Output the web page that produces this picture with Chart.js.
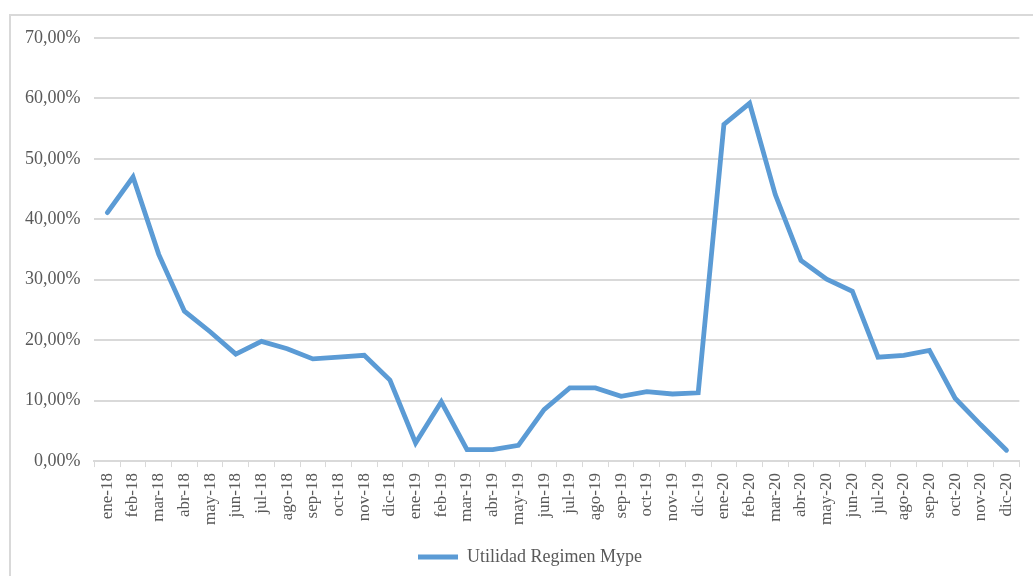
<!DOCTYPE html>
<html>
<head>
<meta charset="utf-8">
<script src="https://cdn.jsdelivr.net/npm/chart.js@4.4.0/dist/chart.umd.min.js"></script>
<style>
  html, body { margin: 0; padding: 0; background: #fff; overflow: hidden; }
  #frame { position: absolute; left: 9px; top: 14px; width: 1040px; height: 580px; border: 2px solid #d9d9d9; }
  #wrap { position: absolute; left: 0; top: 0; width: 1033px; height: 576px; }
</style>
</head>
<body>
<div id="frame"></div>
<div id="wrap"><canvas id="myChart"></canvas></div>
<script>
let meses = ['ene-18','feb-18','mar-18','abr-18','may-18','jun-18','jul-18','ago-18','sep-18','oct-18','nov-18','dic-18',
             'ene-19','feb-19','mar-19','abr-19','may-19','jun-19','jul-19','ago-19','sep-19','oct-19','nov-19','dic-19',
             'ene-20','feb-20','mar-20','abr-20','may-20','jun-20','jul-20','ago-20','sep-20','oct-20','nov-20','dic-20']

let utilidad = [41.1, 47.0, 34.2, 24.8, 21.4, 17.7, 19.8, 18.6, 16.9, 17.2, 17.5, 13.4,
                3.0, 9.8, 1.9, 1.9, 2.6, 8.5, 12.1, 12.1, 10.7, 11.5, 11.1, 11.3,
                55.7, 59.2, 44.1, 33.2, 30.1, 28.1, 17.2, 17.5, 18.3, 10.4, 6.0, 1.8]

let serie = 'Utilidad Regimen Mype'
let azul = '#5b9bd5'
let gris = '#d9d9d9'
let texto = '#595959'

// nudge the legend a bit to the right, as in the original
let moverLeyenda = {
  id: 'moverLeyenda',
  afterLayout(chart) {
    chart.legend.left += 12
    chart.legend.right += 12
  }
}

let ctx = document.getElementById('myChart').getContext('2d')

let chart = new Chart(ctx, {
  type: 'line',
  data: {
    labels: meses,
    datasets: [{
      label: serie,
      data: utilidad,
      borderColor: azul,
      backgroundColor: azul,
      borderWidth: 4.8,
      borderCapStyle: 'round',
      borderJoinStyle: 'miter',
      pointRadius: 0,
      fill: false,
      tension: 0
    }]
  },
  options: {
    responsive: true,
    maintainAspectRatio: false,
    animation: false,
    layout: { autoPadding: false, padding: { left: 11, right: 8, top: 38, bottom: 0 } },
    plugins: {
      tooltip: { enabled: false },
      legend: {
        position: 'bottom',
        labels: {
          usePointStyle: true,
          pointStyle: 'line',
          pointStyleWidth: 40,
          color: texto,
          font: { family: 'Liberation Serif', size: 18 },
          padding: 17
        }
      }
    },
    scales: {
      x: {
        offset: true,
        grid: {
          display: true,
          offset: true,
          drawOnChartArea: false,
          drawTicks: true,
          tickLength: 6,
          color: gris
        },
        border: { display: true, color: gris, width: 2 },
        ticks: {
          autoSkip: false,
          minRotation: 90,
          maxRotation: 90,
          color: texto,
          font: { family: 'Liberation Serif', size: 17 },
          padding: 6
        }
      },
      y: {
        min: 0,
        max: 70,
        grid: { color: gris, lineWidth: 2, drawTicks: false },
        border: { display: false },
        ticks: {
          stepSize: 10,
          color: texto,
          font: { family: 'Liberation Serif', size: 18 },
          padding: 14,
          callback: function (v) { return v.toFixed(2).replace('.', ',') + '%' }
        }
      }
    }
  },
  plugins: [moverLeyenda]
})
</script>
</body>
</html>
